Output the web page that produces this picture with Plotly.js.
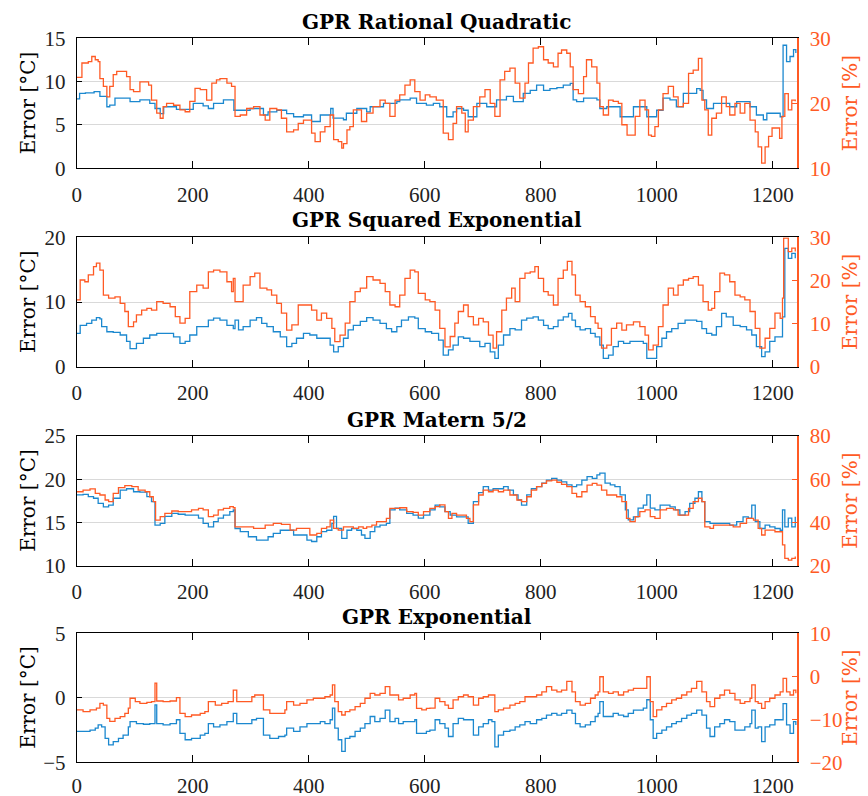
<!DOCTYPE html>
<html>
<head>
<meta charset="utf-8">
<script src="https://cdn.plot.ly/plotly-3.0.1.min.js"></script>
<style>html,body{margin:0;padding:0;background:#fff;}#chart{width:868px;height:796px;}</style>
</head>
<body>
<div id="chart"></div>
<script>
// ---------- data ----------
const panelTitles = ["GPR Rational Quadratic", "GPR Squared Exponential", "GPR Matern 5/2", "GPR Exponential"];
const xTickVals = [0, 200, 400, 600, 800, 1000, 1200];

// Panel 1 – Rational Quadratic
const rqX_C = [0,5,15,30,40,52,57,66,86,92,103,109,121,126,135,144,150,167,172,190,201,213,218,227,236,247,253,270,271,285,299,310,322,330,345,355,362,374,385,391,400,405,414,420,437,438,442,454,460,465,477,483,494,500,506,523,529,546,552,557,575,586,603,615,626,638,649,655,667,675,684,690,701,707,718,724,736,741,753,764,770,782,793,805,816,828,839,851,856,862,874,891,897,902,914,931,937,954,960,977,983,994,1000,1011,1023,1034,1046,1063,1069,1075,1080,1086,1098,1115,1126,1138,1155,1161,1172,1184,1190,1207,1213,1218,1224,1230,1236,1240];
const rqErrC = [8.0,8.65,8.7,8.85,8.3,7.1,7.3,8.1,8.1,7.7,7.7,7.9,7.9,7.5,6.9,6.3,7.1,7.1,6.8,6.8,7.5,7.5,7.2,6.9,7.5,7.5,7.9,7.9,6.7,6.7,6.9,6.9,6.15,6.5,6.7,6.7,6.3,5.95,5.95,6.15,6.15,5.4,5.4,6.15,6.15,6.9,5.8,5.8,5.6,6.35,6.35,6.9,6.9,6.5,7.1,7.1,7.5,7.5,7.7,7.9,8.1,7.5,7.3,7.5,7.1,5.95,6.5,6.9,6.7,5.95,5.95,7.5,7.5,7.1,7.1,7.9,7.9,8.3,7.7,7.7,8.65,9.0,9.6,9.0,9.2,9.3,9.6,9.8,7.9,7.7,8.1,8.1,7.9,6.9,7.1,7.1,5.95,5.95,7.1,7.1,5.95,5.95,6.7,8.1,7.9,7.1,8.65,8.65,9.2,9.0,7.9,6.9,7.5,7.5,7.1,7.7,7.7,7.1,6.15,5.6,6.35,6.35,5.95,14.2,12.3,12.9,13.7,13.3];
const rqX_P = [0,9,20,26,32,37,40,46,52,57,63,69,78,86,92,98,109,118,124,129,138,144,149,155,167,178,187,195,204,213,224,233,241,247,259,267,273,282,293,305,316,325,333,345,353,362,374,382,391,400,405,411,420,428,437,443,451,457,460,466,471,477,486,491,500,511,523,532,540,549,557,566,575,583,592,601,609,620,632,641,649,655,664,670,675,684,695,704,713,721,730,738,747,756,764,773,779,787,796,805,813,822,830,836,845,851,856,865,874,879,888,897,902,908,917,925,934,940,949,957,963,971,980,986,991,997,1003,1011,1020,1029,1037,1046,1055,1063,1072,1078,1083,1089,1095,1103,1112,1120,1126,1135,1144,1152,1161,1170,1175,1181,1187,1193,1199,1207,1212,1216,1221,1227,1233,1239];
const rqErrP = [24.0,26.2,26.4,27.2,26.7,26.4,23.8,22.6,21.0,22.6,24.4,24.9,24.9,24.1,22.1,21.8,23.3,23.3,22.8,20.5,18.5,17.7,19.5,20.0,19.7,19.0,18.7,20.3,22.3,22.1,20.5,23.1,23.6,23.8,23.1,22.6,18.0,18.2,19.2,19.5,18.2,17.4,19.2,19.0,17.7,15.6,15.9,16.9,17.4,17.4,15.4,14.1,15.6,16.4,18.2,14.4,14.1,13.1,13.8,15.9,16.4,19.0,19.0,17.2,18.5,19.5,20.5,20.0,18.0,20.5,21.3,22.8,23.6,21.8,20.5,21.3,21.0,20.5,15.4,14.4,16.9,19.5,18.5,15.6,17.4,19.5,21.0,22.1,20.0,18.0,23.6,24.9,25.4,23.1,20.8,23.1,26.2,28.5,28.7,26.7,26.2,25.6,27.7,28.2,27.7,25.6,22.1,21.5,24.1,26.7,25.6,23.1,19.5,18.2,20.5,20.3,20.0,16.7,15.1,15.1,18.0,20.5,19.0,15.1,14.9,16.4,19.0,21.5,22.6,21.0,19.5,20.0,24.6,25.1,26.9,20.5,19.0,15.1,17.7,18.5,21.0,19.5,18.2,20.0,18.5,20.0,17.4,15.6,13.3,10.8,13.3,14.9,16.2,16.2,14.6,18.0,21.5,19.0,20.5,20.3];

// Panel 2 – Squared Exponential
const seX_C = [0,6,17,26,34,40,43,52,63,75,86,92,103,115,126,138,155,167,178,187,195,207,218,227,236,247,259,270,273,279,287,299,310,319,328,339,351,362,371,379,391,402,414,425,437,443,451,460,468,477,489,500,511,523,534,543,552,560,572,583,589,601,612,624,632,641,649,658,667,678,687,695,704,713,721,727,736,747,756,767,776,787,796,805,813,822,830,839,848,854,860,868,877,886,894,902,908,917,925,934,943,954,966,977,983,991,1000,1009,1017,1026,1037,1049,1060,1069,1078,1086,1095,1103,1112,1120,1132,1144,1155,1164,1172,1181,1187,1195,1204,1213,1217,1221,1227,1233,1239];
const seErrC = [5.15,6.4,6.7,7.2,7.6,7.4,6.2,5.4,5.3,4.9,3.9,2.8,3.6,4.4,4.9,5.15,5.15,4.6,3.6,3.9,4.9,6.2,6.2,7.2,7.5,7.2,6.4,5.9,7.2,5.7,6.2,7.2,7.6,6.7,6.2,5.4,4.6,3.1,3.6,4.4,5.15,4.9,4.4,4.4,3.35,2.3,3.1,4.4,5.7,6.4,7.0,7.6,7.2,6.7,5.9,5.4,6.2,7.2,7.7,7.5,5.9,5.4,5.15,4.1,1.8,2.6,3.35,4.6,4.4,3.9,3.9,3.1,3.6,2.3,1.3,3.35,4.9,5.9,5.7,7.2,7.5,7.7,7.2,6.4,5.9,6.2,7.2,7.7,8.25,7.2,6.2,5.7,5.9,5.15,4.6,3.35,1.3,1.8,3.1,3.9,3.6,3.9,3.9,3.6,1.3,1.3,3.1,4.4,5.4,5.9,6.7,7.2,7.2,7.0,5.9,5.15,4.9,6.2,8.25,7.7,6.4,6.2,5.7,4.9,3.1,1.55,2.3,3.9,4.6,4.6,7.7,18.3,16.75,17.5,16.75];
const seX_P = [0,6,14,20,29,34,40,46,55,66,75,83,89,98,103,112,121,129,138,149,161,170,178,187,195,207,218,227,236,247,259,267,270,273,279,287,299,307,316,328,336,345,353,362,371,382,394,405,414,422,431,440,445,454,463,471,480,489,500,511,523,532,540,549,557,566,575,583,589,601,609,618,626,635,644,652,658,667,675,684,693,701,710,718,724,733,741,750,756,764,773,782,790,796,805,813,822,830,839,846,854,860,868,877,886,894,899,905,914,922,931,940,948,960,971,980,986,994,1003,1011,1020,1029,1037,1046,1055,1063,1072,1080,1089,1095,1100,1109,1117,1126,1135,1144,1152,1161,1170,1178,1187,1195,1204,1213,1217,1219,1227,1233,1239];
const seErrP = [15.5,20.1,19.7,21.3,23.2,24.0,22.4,16.6,15.9,16.2,14.7,12.8,9.3,10.4,12.0,13.1,13.5,13.1,15.1,14.7,13.9,11.6,10.1,11.2,17.4,18.9,18.2,22.0,22.4,22.0,19.7,17.4,20.5,15.1,15.1,18.9,20.9,21.7,18.2,17.8,16.6,14.7,12.4,8.5,9.7,14.3,14.3,13.1,10.8,12.4,11.2,8.9,5.8,7.3,10.1,15.1,17.4,18.2,20.9,20.1,19.3,17.4,14.3,13.9,16.6,20.5,22.4,22.0,17.0,15.5,15.1,13.1,8.9,4.6,7.0,10.1,12.8,14.3,11.6,9.7,11.2,10.4,7.3,4.3,8.1,13.1,15.9,18.2,15.1,20.5,21.7,22.0,23.2,20.5,17.4,16.6,14.3,20.5,22.4,24.4,21.3,16.6,15.1,13.9,11.6,10.1,8.9,4.3,5.0,8.9,10.1,8.5,9.7,10.4,9.3,7.3,3.9,5.0,9.3,14.3,18.2,16.6,18.9,20.1,20.5,20.9,18.9,15.1,13.1,13.5,17.4,21.7,21.3,19.7,16.6,16.2,15.5,12.8,8.9,4.3,6.6,8.9,12.4,11.2,15.9,29.8,26.7,27.5,26.7];

// Panel 3 – Matern 5/2
const maX_C = [0,11,20,29,37,46,55,63,75,86,98,109,121,129,135,144,152,164,175,187,198,210,218,227,236,244,253,264,270,273,282,296,310,322,330,339,351,362,374,385,397,405,414,422,431,440,443,448,457,466,474,483,491,497,506,514,523,534,540,549,557,569,580,589,598,609,618,626,635,644,655,667,675,684,693,701,710,718,727,736,744,753,761,767,776,784,793,802,810,819,828,836,845,854,862,871,880,889,897,902,911,920,928,937,946,951,960,968,977,983,989,997,1006,1014,1023,1032,1040,1049,1057,1066,1072,1078,1083,1092,1103,1115,1126,1138,1149,1158,1164,1170,1178,1187,1195,1204,1213,1217,1221,1227,1233,1239];
const maErrC = [18.2,18.25,18.0,17.8,17.2,16.8,17.0,17.8,18.75,18.9,18.55,18.5,18.0,17.4,14.7,14.9,15.7,16.05,15.95,15.85,15.85,15.5,14.9,14.5,15.1,15.5,15.85,16.25,16.45,14.3,13.95,13.35,12.95,12.95,13.35,13.75,14.1,14.1,13.55,13.55,12.95,12.8,13.35,13.95,14.1,14.9,15.7,14.3,13.15,14.1,14.3,14.1,13.55,13.15,13.95,14.5,14.7,14.9,16.45,16.65,16.45,16.05,15.85,15.5,15.85,16.45,17.0,16.8,16.25,15.85,15.65,15.65,14.9,17.4,18.45,19.15,18.75,18.9,18.9,19.15,18.75,18.2,17.6,17.0,18.2,18.9,19.15,19.55,19.9,20.1,19.9,19.7,19.35,19.15,19.35,19.9,20.3,20.1,20.5,20.7,19.55,19.35,19.15,18.2,16.45,15.3,15.65,16.65,17.0,18.2,16.65,16.45,17.0,17.0,16.8,16.45,15.85,16.25,17.2,17.8,18.55,17.4,15.1,14.9,14.9,14.9,14.7,15.1,15.65,15.5,17.0,15.1,14.3,14.7,14.5,14.3,14.1,16.45,14.5,15.5,14.5,15.65];
const maX_P = [0,11,23,32,40,49,55,63,72,83,95,106,118,126,132,136,144,152,164,175,187,198,210,218,227,236,244,253,264,270,273,287,305,316,325,339,353,368,379,391,402,414,422,431,437,443,451,460,468,477,486,494,500,509,517,526,534,540,549,557,569,580,589,598,609,618,626,635,641,647,655,664,672,678,684,693,701,710,718,727,736,747,759,767,776,784,793,802,810,819,828,836,845,854,862,871,880,889,897,905,914,922,931,940,948,954,963,971,980,989,997,1006,1017,1029,1037,1046,1055,1063,1072,1078,1083,1092,1098,1109,1120,1132,1144,1155,1167,1175,1181,1187,1195,1204,1213,1217,1221,1227,1233,1239];
const maErrP = [54.2,55.0,55.5,53.5,52.7,50.4,49.6,53.5,56.1,57.0,56.6,55.0,54.2,51.9,49.6,41.1,42.7,44.2,45.3,45.0,45.0,45.8,46.5,45.8,42.7,43.4,45.8,46.5,47.3,46.8,38.0,38.0,37.3,37.3,38.8,39.6,39.1,36.5,37.3,37.3,34.2,35.0,37.3,38.0,41.1,37.3,36.5,38.0,38.0,37.3,38.0,37.3,38.0,38.8,40.4,40.4,41.9,46.5,46.5,46.8,45.0,44.7,43.4,45.0,46.5,47.3,48.1,45.0,41.9,44.2,43.4,43.4,41.9,40.4,48.1,52.7,55.0,54.2,55.0,54.2,55.0,52.7,50.4,49.6,51.9,55.0,56.6,58.1,59.2,59.6,58.6,57.6,56.6,53.5,51.9,54.2,57.3,58.1,57.3,55.0,52.7,52.7,51.9,49.6,41.9,40.4,42.7,45.0,45.8,42.7,41.9,45.8,46.5,45.8,43.4,43.4,46.5,49.6,51.2,49.6,38.0,37.3,38.8,38.8,38.8,38.0,39.6,41.9,41.1,37.3,34.2,36.5,36.5,35.7,35.7,29.6,23.4,22.6,23.4,24.2];

// Panel 4 – Exponential
const exX_C = [0,11,23,32,37,43,49,55,63,72,80,89,92,103,115,126,133,135,138,149,161,172,178,187,198,213,221,227,236,247,259,270,276,287,302,310,322,333,348,359,362,374,385,397,408,420,428,437,441,445,451,457,463,471,480,489,497,506,514,523,532,540,549,555,563,575,583,586,595,603,609,618,626,635,641,649,658,667,678,684,693,701,710,716,721,727,736,747,756,764,773,782,793,802,810,819,828,836,845,854,860,868,877,886,894,899,902,908,917,925,934,943,951,960,968,977,983,989,994,1000,1009,1017,1026,1034,1043,1052,1060,1069,1078,1086,1092,1100,1109,1117,1126,1135,1144,1152,1161,1164,1170,1175,1181,1187,1195,1204,1213,1218,1224,1230,1236,1240];
const exErrC = [-2.6,-2.6,-2.5,-2.35,-2.1,-2.25,-3.15,-3.65,-3.4,-3.15,-2.9,-2.25,-1.85,-2.0,-2.05,-2.0,-2.0,-0.55,-2.0,-2.1,-2.0,-1.7,-2.75,-3.25,-3.15,-2.9,-2.75,-2.0,-2.25,-2.1,-1.85,-1.2,-2.0,-2.0,-1.7,-1.6,-2.9,-3.15,-3.0,-2.9,-2.35,-2.6,-2.25,-2.0,-2.0,-1.85,-2.0,-1.7,-0.8,-2.35,-3.25,-4.15,-3.15,-3.0,-2.6,-2.35,-2.0,-1.45,-1.85,-1.6,-0.95,-1.85,-1.6,-2.0,-1.85,-1.85,-1.7,-2.75,-2.75,-2.6,-2.5,-1.7,-2.0,-2.35,-3.0,-2.0,-1.6,-1.7,-1.7,-2.9,-2.25,-2.0,-1.7,-1.85,-3.8,-2.9,-2.6,-2.5,-2.25,-2.1,-1.85,-2.0,-1.7,-1.6,-1.35,-1.2,-1.35,-1.2,-0.95,-1.2,-2.0,-2.25,-2.1,-1.85,-1.45,-1.2,-0.3,-1.45,-1.45,-1.2,-1.35,-1.45,-1.2,-0.95,-0.95,-0.8,-0.15,-1.7,-3.15,-2.75,-2.5,-2.25,-2.0,-1.85,-1.6,-1.35,-1.2,-0.95,-1.35,-2.35,-3.0,-2.25,-2.0,-1.7,-1.85,-2.5,-2.5,-2.25,-2.0,-0.95,-2.35,-2.25,-3.4,-2.25,-2.1,-1.7,-1.7,-0.45,-2.1,-2.75,-1.85,-2.1];
const exX_P = [0,11,23,34,40,46,52,57,66,75,83,89,92,101,109,121,129,135,138,149,161,172,178,187,198,213,221,227,239,250,261,270,276,287,302,307,322,333,348,359,362,374,385,397,408,420,428,437,441,445,451,457,463,471,480,489,497,506,514,523,532,540,549,555,563,575,583,586,595,603,609,618,626,635,641,649,658,667,675,684,693,701,710,716,721,727,736,747,756,764,773,782,793,802,810,819,828,836,845,854,860,868,877,886,894,899,902,908,917,925,934,943,951,960,968,977,983,989,994,1000,1009,1017,1026,1034,1043,1052,1060,1069,1078,1086,1092,1100,1109,1117,1126,1135,1144,1152,1161,1164,1170,1175,1181,1187,1195,1204,1213,1218,1224,1230,1236,1240];
const exErrP = [-7.8,-8.2,-7.8,-7.4,-6.3,-6.7,-9.8,-10.5,-9.8,-9.4,-8.6,-7.4,-5.1,-5.9,-6.3,-6.05,-5.9,-1.6,-5.75,-5.9,-5.75,-4.95,-8.6,-9.4,-9.0,-8.6,-8.2,-5.9,-6.7,-6.3,-5.9,-3.2,-5.9,-5.9,-4.75,-4.35,-7.8,-8.6,-8.6,-7.8,-5.9,-6.7,-6.3,-5.5,-5.1,-5.1,-4.75,-4.35,-2.0,-5.9,-8.2,-9.0,-8.2,-7.8,-7.05,-6.3,-5.1,-3.95,-4.35,-3.95,-2.4,-4.35,-4.35,-5.5,-5.1,-4.35,-3.95,-7.45,-7.8,-7.45,-7.4,-5.1,-5.9,-6.7,-7.45,-5.5,-4.75,-4.35,-4.75,-6.7,-5.1,-4.75,-4.35,-4.35,-8.2,-7.8,-7.4,-6.7,-6.3,-5.9,-4.75,-4.75,-4.35,-3.6,-2.4,-3.2,-3.6,-3.2,-1.2,-3.6,-5.9,-6.7,-6.3,-5.1,-4.35,-3.6,-0.1,-3.6,-3.95,-3.6,-4.35,-3.6,-3.2,-2.8,-2.8,-2.8,-0.1,-5.9,-9.4,-7.8,-7.05,-6.3,-5.5,-5.1,-4.35,-3.6,-2.8,-1.2,-3.6,-5.9,-7.05,-5.1,-4.35,-3.2,-3.95,-5.5,-6.3,-5.9,-5.1,-2.0,-5.9,-6.3,-7.45,-5.9,-5.1,-4.35,-3.6,-0.5,-3.6,-4.35,-3.2,-3.95];

// axis ranges / ticks per panel
const leftRanges  = [[0,15],[0,20],[10,25],[-5,5]];
const leftTicks   = [[0,5,10,15],[0,10,20],[10,15,20,25],[-5,0,5]];
const rightRanges = [[10,30],[0,30],[20,80],[-20,10]];
const rightTicks  = [[10,20,30],[0,10,20,30],[20,40,60,80],[-20,-10,0,10]];

// ---------- styling ----------
const BLUE = '#1b88cf';
const ORANGE = '#ff5a24';
const FONT = 'DejaVu Serif, serif';
const TICKFONT = 'Liberation Serif, serif';
const W = 868, H = 796;
const xDom = [76.7 / W, 797 / W];
const panelPx = [[38.3,168.3],[237.3,366.7],[436,565.7],[633.3,762.3]]; // top,bottom
const yDoms = panelPx.map(p => [1 - p[1] / H, 1 - p[0] / H]);
const titleY = [22, 220, 420, 617];
const xStandoff = [7, 7, 7, 4];

const series = [
  [rqX_C, rqErrC, rqX_P, rqErrP],
  [seX_C, seErrC, seX_P, seErrP],
  [maX_C, maErrC, maX_P, maErrP],
  [exX_C, exErrC, exX_P, exErrP]
];

const traces = [];
const layout = {
  width: W, height: H,
  margin: {l: 0, r: 0, t: 0, b: 0},
  paper_bgcolor: '#fff', plot_bgcolor: '#fff',
  showlegend: false,
  font: {family: FONT, size: 17, color: '#000'},
  annotations: []
};

for (let i = 0; i < 4; i++) {
  const xn = i === 0 ? '' : String(i + 1);
  const yl = String(2 * i + 1), yr = String(2 * i + 2);
  const ylName = yl === '1' ? '' : yl;
  traces.push({x: series[i][0], y: series[i][1], type: 'scatter', mode: 'lines',
    line: {color: BLUE, width: 1.3, shape: 'hv'}, xaxis: 'x' + xn, yaxis: 'y' + ylName, hoverinfo: 'skip'});
  traces.push({x: series[i][2], y: series[i][3], type: 'scatter', mode: 'lines',
    line: {color: ORANGE, width: 1.3, shape: 'hv'}, xaxis: 'x' + xn, yaxis: 'y' + yr, hoverinfo: 'skip'});

  layout['xaxis' + xn] = {
    domain: xDom, anchor: 'y' + ylName, range: [0, 1242],
    tickmode: 'array', tickvals: xTickVals, ticks: 'inside', ticklen: 7, tickcolor: '#000',
    showline: true, linecolor: '#000', linewidth: 1, mirror: 'ticks',
    showgrid: false, zeroline: false, ticklabelstandoff: xStandoff[i],
    tickfont: {family: TICKFONT, size: 21, color: '#222'}
  };
  layout['yaxis' + ylName] = {
    domain: yDoms[i], anchor: 'x' + xn, range: leftRanges[i],
    tickmode: 'array', tickvals: leftTicks[i], ticks: 'inside', ticklen: 5, tickcolor: '#000',
    showline: true, linecolor: '#000', linewidth: 1,
    showgrid: true, gridcolor: '#d9d9d9', gridwidth: 1, zeroline: false,
    ticklabelstandoff: 6,
    tickfont: {family: TICKFONT, size: 21, color: '#222'}
  };
  layout['yaxis' + yr] = {
    overlaying: 'y' + ylName, side: 'right', anchor: 'x' + xn, range: rightRanges[i],
    tickmode: 'array', tickvals: rightTicks[i], ticks: 'inside', ticklen: 5, tickcolor: ORANGE,
    showline: true, linecolor: ORANGE, linewidth: 1.5,
    showgrid: false, zeroline: false, ticklabelstandoff: 7,
    tickfont: {family: TICKFONT, size: 21, color: ORANGE}
  };

  const cy = 1 - (panelPx[i][0] + panelPx[i][1]) / 2 / H;
  layout.annotations.push({text: '<b>' + panelTitles[i] + '</b>', xref: 'paper', yref: 'paper',
    x: (xDom[0] + xDom[1]) / 2, y: 1 - titleY[i] / H, xanchor: 'center', yanchor: 'middle',
    showarrow: false, font: {family: FONT, size: 20, color: '#000'}});
  layout.annotations.push({text: 'Error [°C]', xref: 'paper', yref: 'paper',
    x: 28 / W, y: cy, xanchor: 'center', yanchor: 'middle', textangle: -90,
    showarrow: false, font: {family: FONT, size: 20, color: '#000'}});
  layout.annotations.push({text: 'Error [%]', xref: 'paper', yref: 'paper',
    x: 850 / W, y: cy, xanchor: 'center', yanchor: 'middle', textangle: -90,
    showarrow: false, font: {family: FONT, size: 20, color: ORANGE}});
}

Plotly.newPlot('chart', traces, layout, {staticPlot: true, displayModeBar: false});
</script>
</body>
</html>
